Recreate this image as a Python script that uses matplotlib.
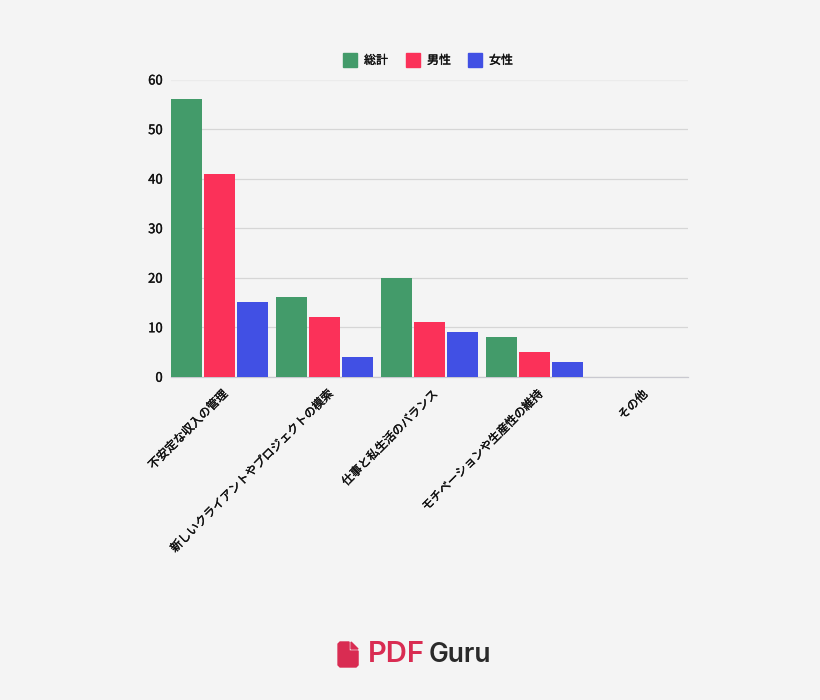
import numpy as np
import matplotlib.pyplot as plt
import matplotlib.patheffects as pe
from matplotlib.patches import Polygon, Rectangle

categories = ['不安定な収入の管理', '新しいクライアントやプロジェクトの模索', '仕事と私生活のバランス',
              'モチベーションや生産性の維持', 'その他']
total = [56, 16, 20, 8, 0]
male = [41, 12, 11, 5, 0]
female = [15, 4, 9, 3, 0]
series_names = ['総計', '男性', '女性']
colors = ['#439b6a', '#fb3159', '#4150e4']
yticks = [0, 10, 20, 30, 40, 50, 60]

plt.rcParams['font.family'] = ['Noto Sans CJK JP', 'DejaVu Sans']
plt.rcParams['font.size'] = 8

W, H = 820, 700
# thin outline, the regular weight is too light and bold too heavy
heavier = [pe.withStroke(linewidth=0.25, foreground='#111111')]

fig = plt.figure(figsize=(8.201, 7.001), dpi=100, facecolor='#f4f4f4')
ax = fig.add_axes([171/W, 1-376.8/H, (688-171)/W, (376.8-79.6)/H], facecolor='#f4f4f4')

x = np.arange(len(categories))
bw = 0.295
step = 0.314
for i, vals in enumerate([total, male, female]):
    ax.bar(x + (i-1)*step, vals, bw, color=colors[i], label=series_names[i], zorder=3)

ax.set_xlim(-0.462, 4.462)
ax.set_ylim(0, 60)
ax.set_yticks(yticks)
ax.tick_params(axis='y', length=0, pad=6, labelsize=9.4, labelcolor='#111111')
ax.tick_params(axis='x', length=0, pad=8, labelcolor='#111111')
ax.set_xticks(x + 0.012)
ax.set_xticklabels(categories, rotation=45, ha='right', rotation_mode='anchor', fontsize=8.5)
for t in ax.get_yticklabels() + ax.get_xticklabels():
    t.set_path_effects(heavier)

ax.grid(axis='y', color='#d6d6d6', lw=0.9, zorder=0)
ax.yaxis.get_gridlines()[-1].set_color('#ebebeb')
for s in ['top', 'left', 'right']:
    ax.spines[s].set_visible(False)
ax.spines['bottom'].set_color('#c9c9d0')
ax.spines['bottom'].set_linewidth(0.9)

# legend drawn by hand so the swatches sit where they should
for name, col, sx, tx in zip(series_names, colors, [343, 406, 468], [364, 427, 489]):
    fig.add_artist(Rectangle((sx/W, 1-67/H), 14/W, 14/H, transform=fig.transFigure, color=col))
    fig.text(tx/W, 1-60.5/H, name, fontsize=8.6, va='center', color='#111111', path_effects=heavier)

# logo
logo = '#d92c52'
fig.add_artist(Polygon([[340/W, 1-642/H], [349/W, 1-642/H], [349/W, 1-651/H], [358/W, 1-651/H],
                        [358/W, 1-665/H], [356/W, 1-667/H], [340/W, 1-667/H], [338/W, 1-665/H],
                        [338/W, 1-644/H]],
                       transform=fig.transFigure, color=logo))
fig.add_artist(Polygon([[351/W, 1-642/H], [358/W, 1-649/H], [351/W, 1-649/H]],
                       transform=fig.transFigure, color=logo))
fig.text(367.5/W, 1-654.5/H, 'PDF', family='Inter', fontsize=21, fontweight='semibold', color=logo,
         va='center')
fig.text(429/W, 1-654.5/H, 'Guru', family='Inter', fontsize=19, fontweight='semibold', color='#2a2a2a',
         va='center')

fig.savefig('out.png', dpi=100, facecolor=fig.get_facecolor())
